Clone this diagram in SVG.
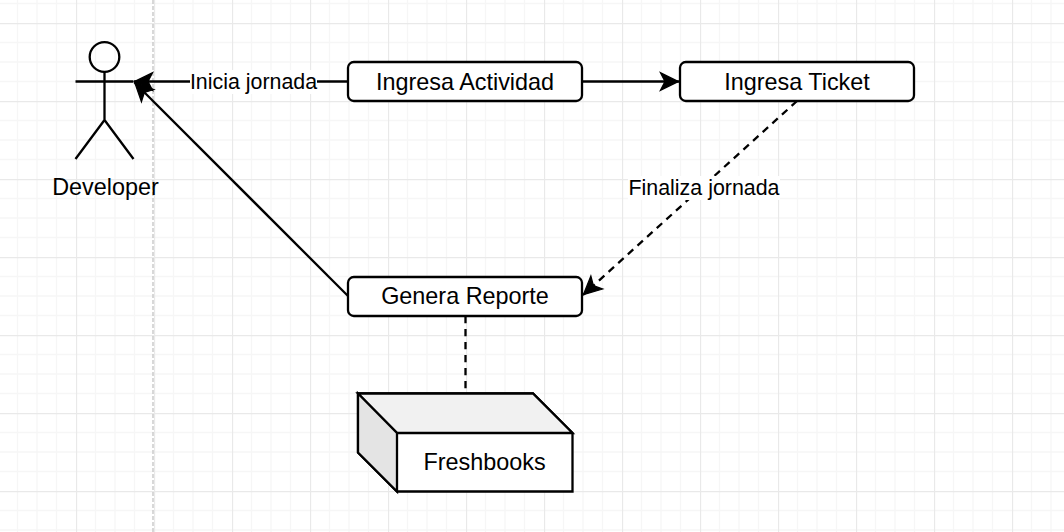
<svg xmlns="http://www.w3.org/2000/svg" width="1064" height="532" viewBox="0 0 1064 532">
<style>
text{font-family:"Liberation Sans",Arial,sans-serif;fill:#000;text-anchor:middle}
.n{font-size:23.4px}.l{font-size:21.4px}
.s{fill:none;stroke:#000;stroke-width:2.3}
.b{fill:#fff;stroke:#000;stroke-width:2.3}
.c{fill:none;stroke:#000;stroke-width:2.3}
.d{stroke-dasharray:7.3 5.7}
</style>
<defs>
<pattern id="g" width="78" height="78" patternUnits="userSpaceOnUse" x="-2" y="23">
<path d="M19.5 0V78M39 0V78M58.5 0V78M0 19.500H78M0 39H78M0 58.500H78" fill="none" stroke="#f6f6f6" stroke-width="1.3"/>
<path d="M0.500 0V78M0 0.500H78" fill="none" stroke="#e9e9e9" stroke-width="1.3"/>
</pattern>
<marker id="a" markerUnits="userSpaceOnUse" markerWidth="28" markerHeight="28" refX="21" refY="14" orient="auto">
<path d="M20.500 14L2.500 5.300L7 14L2.500 22.700Z" fill="#000" stroke="#000" stroke-width="1.300"/>
</marker>
</defs>
<rect width="1064" height="532" fill="#fff"/>
<rect width="1064" height="532" fill="url(#g)"/>
<path d="M153 0V532" stroke="#c4c4c4" stroke-width="1.300" stroke-dasharray="4 2" fill="none"/>
<g id="connectors">
<path class="c" d="M348 81.500H134" marker-end="url(#a)"/>
<path class="c" d="M582 81.500H679" marker-end="url(#a)"/>
<path class="c" d="M348 296L134.500 82.500" marker-end="url(#a)"/>
<path class="c d" d="M797 101L583 295" marker-end="url(#a)"/>
<path class="c d" d="M465.500 316V393"/>
<rect x="190" y="70" width="127" height="24" fill="#fff"/>
<text class="l" x="253.500" y="89">Inicia jornada</text>
<rect x="628" y="176" width="152" height="24" fill="#fff"/>
<text class="l" x="704" y="195">Finaliza jornada</text>
</g>
<g id="developer">
<circle class="s" cx="104.500" cy="57" r="14.800"/>
<path class="s" d="M104.500 72V120M75.500 81.500H133.500M75.500 159L104.500 120L133.500 159"/>
<text class="n" x="105.500" y="195">Developer</text>
</g>
<g id="ingresa-actividad">
<rect class="b" x="348" y="62" width="234" height="39" rx="5.850"/>
<text class="n" x="465" y="89.500">Ingresa Actividad</text>
</g>
<g id="ingresa-ticket">
<rect class="b" x="680" y="62" width="234" height="39" rx="5.850"/>
<text class="n" x="797" y="89.500">Ingresa Ticket</text>
</g>
<g id="genera-reporte">
<rect class="b" x="348" y="277" width="234" height="39" rx="5.850"/>
<text class="n" x="465" y="304">Genera Reporte</text>
</g>
<g id="freshbooks">
<path class="b" d="M358 393.500H533L572.500 433V491.500H397L358 452.500Z"/>
<path d="M358 393.500H533L572.500 433H397Z" fill="#f1f1f1" stroke="#000" stroke-width="2.300"/>
<path d="M358 393.500L397 433V491.500L358 452.500Z" fill="#e4e4e4" stroke="#000" stroke-width="2.300"/>
<text class="n" x="484.500" y="470">Freshbooks</text>
</g>
</svg>
